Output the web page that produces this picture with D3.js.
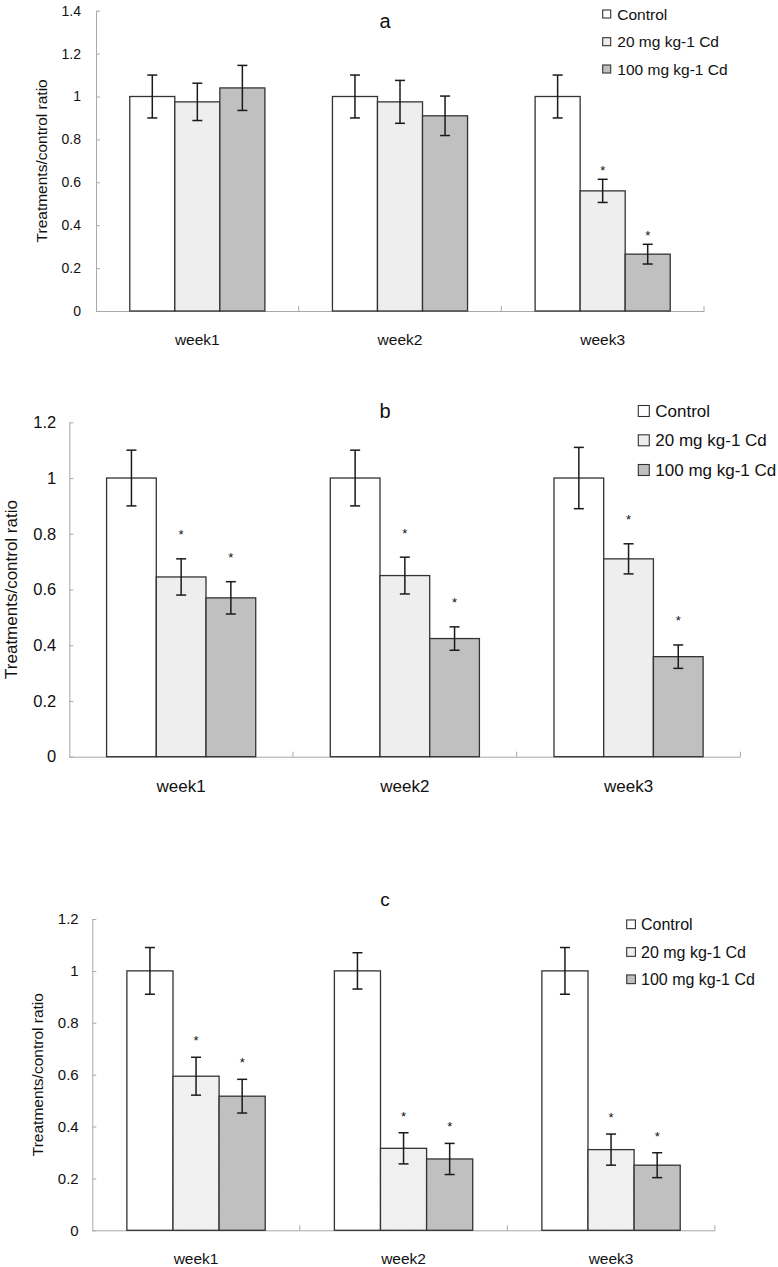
<!DOCTYPE html>
<html>
<head>
<meta charset="utf-8">
<script src="https://cdn.jsdelivr.net/npm/d3@7/dist/d3.min.js"></script>
<style>
  html, body { margin: 0; padding: 0; background: #fff; }
  svg { display: block; font-family: "Liberation Sans", Arial, sans-serif; }
</style>
</head>
<body>
<svg id="chart" width="778" height="1267"></svg>
<script>
// ---------------- DATA ----------------
const weeks = ["week1", "week2", "week3"];
const seriesNames = ["Control", "20 mg kg-1 Cd", "100 mg kg-1 Cd"];
const yAxisTitle = "Treatments/control ratio";

const yTicksA = [0, 0.2, 0.4, 0.6, 0.8, 1, 1.2, 1.4];
const yTickLabelsA = ["0", "0.2", "0.4", "0.6", "0.8", "1", "1.2", "1.4"];
const yTicksBC = [0, 0.2, 0.4, 0.6, 0.8, 1, 1.2];
const yTickLabelsBC = ["0", "0.2", "0.4", "0.6", "0.8", "1", "1.2"];

// Panel a
const aControl = [1, 1, 1];
const aControlErr = [0.1, 0.1, 0.1];
const a20 = [0.975, 0.975, 0.56];
const a20Err = [0.087, 0.1, 0.054];
const a100 = [1.04, 0.91, 0.265];
const a100Err = [0.105, 0.092, 0.046];
const aSig20 = [false, false, true];
const aSig100 = [false, false, true];

// Panel b
const bControl = [1, 1, 1];
const bControlErr = [0.1, 0.1, 0.11];
const b20 = [0.645, 0.65, 0.71];
const b20Err = [0.065, 0.066, 0.054];
const b100 = [0.57, 0.424, 0.359];
const b100Err = [0.058, 0.042, 0.042];
const bSig20 = [true, true, true];
const bSig100 = [true, true, true];

// Panel c
const cControl = [1, 1, 1];
const cControlErr = [0.09, 0.07, 0.09];
const c20 = [0.594, 0.316, 0.311];
const c20Err = [0.073, 0.06, 0.06];
const c100 = [0.517, 0.275, 0.251];
const c100Err = [0.065, 0.06, 0.048];
const cSig20 = [true, true, true];
const cSig100 = [true, true, true];

// ---------------- DRAWING ----------------
const svg = d3.select("#chart");
const defs = svg.append("defs");
const pat = defs.append("pattern")
  .attr("id", "hatch").attr("patternUnits", "userSpaceOnUse")
  .attr("width", 3).attr("height", 3);
pat.append("rect").attr("width", 3).attr("height", 3).attr("fill", "#f6f6f6");
pat.append("path").attr("d", "M0,3 L3,0 M-1,1 L1,-1 M2,4 L4,2")
  .attr("stroke", "#dedede").attr("stroke-width", 0.7);

function buildRows(ctrl, ctrlErr, s20, s20Err, s100, s100Err, sig20, sig100) {
  return weeks.map((w, i) => ({
    week: w,
    items: [
      { s: seriesNames[0], v: ctrl[i], e: ctrlErr[i], sig: false },
      { s: seriesNames[1], v: s20[i], e: s20Err[i], sig: sig20[i] },
      { s: seriesNames[2], v: s100[i], e: s100Err[i], sig: sig100[i] }
    ]
  }));
}

function drawPanel(cfg, rows) {
  const g = svg.append("g");
  const y = d3.scaleLinear().domain([0, cfg.ymax]).range([cfg.y0, cfg.yTop]);
  const x = d3.scaleBand().domain(weeks).range([cfg.x0, cfg.x1]).paddingInner(0).paddingOuter(0);
  const xs = d3.scaleBand().domain(seriesNames).range([0, x.bandwidth()])
    .paddingInner(0).paddingOuter(0.75);
  const fills = cfg.fills;

  // Y axis
  const yAxis = d3.axisLeft(y).tickValues(cfg.ticks)
    .tickFormat((d, i) => cfg.tickLabels[i])
    .tickSizeInner(-4).tickSizeOuter(0).tickPadding(cfg.tickPad);
  const ya = g.append("g").attr("transform", `translate(${cfg.x0},0)`).call(yAxis);
  ya.select(".domain").attr("stroke", "#a8a8a8");
  ya.selectAll(".tick line").attr("stroke", "#a8a8a8");
  ya.selectAll(".tick text").attr("font-size", cfg.tickFont).attr("fill", "#111")
    .attr("font-family", "Liberation Sans, Arial, sans-serif");

  // X axis (labels)
  const xAxis = d3.axisBottom(x).tickSize(0).tickPadding(cfg.weekDy - cfg.weekFont * 0.35);
  const xa = g.append("g").attr("transform", `translate(0,${cfg.y0})`).call(xAxis);
  xa.select(".domain").attr("stroke", "#a8a8a8");
  xa.selectAll(".tick text").attr("font-size", cfg.weekFont).attr("fill", "#111")
    .attr("font-family", "Liberation Sans, Arial, sans-serif");
  // category separator ticks (inside)
  const bounds = weeks.slice(1).map(w => x(w)).concat([x(weeks[weeks.length - 1]) + x.bandwidth()]);
  g.selectAll(".sep").data(bounds).enter().append("line")
    .attr("x1", d => d).attr("x2", d => d)
    .attr("y1", cfg.y0).attr("y2", cfg.y0 - 5)
    .attr("stroke", "#a8a8a8");

  // Bars
  const grp = g.selectAll(".grp").data(rows).enter().append("g")
    .attr("transform", d => `translate(${x(d.week)},0)`);
  grp.selectAll("rect").data(d => d.items).enter().append("rect")
    .attr("x", d => xs(d.s)).attr("width", xs.bandwidth())
    .attr("y", d => y(d.v)).attr("height", d => y(0) - y(d.v))
    .attr("fill", (d, i) => fills[i]).attr("stroke", "#333").attr("stroke-width", 1.3);

  // Error bars
  const eb = grp.selectAll(".eb").data(d => d.items).enter().append("g");
  const cx = d => xs(d.s) + xs.bandwidth() / 2;
  eb.append("line").attr("x1", cx).attr("x2", cx)
    .attr("y1", d => y(d.v + d.e)).attr("y2", d => y(d.v - d.e))
    .attr("stroke", "#1a1a1a").attr("stroke-width", 1.5);
  eb.append("line").attr("x1", d => cx(d) - 5).attr("x2", d => cx(d) + 5)
    .attr("y1", d => y(d.v + d.e)).attr("y2", d => y(d.v + d.e))
    .attr("stroke", "#1a1a1a").attr("stroke-width", 1.5);
  eb.append("line").attr("x1", d => cx(d) - 5).attr("x2", d => cx(d) + 5)
    .attr("y1", d => y(d.v - d.e)).attr("y2", d => y(d.v - d.e))
    .attr("stroke", "#1a1a1a").attr("stroke-width", 1.5);

  // significance asterisks
  grp.selectAll(".star").data(d => d.items.filter(it => it.sig)).enter().append("text")
    .attr("x", cx).attr("y", d => y(d.v + d.e) - cfg.starGap + 13 * 0.57)
    .attr("text-anchor", "middle").attr("font-size", 13).attr("fill", "#111")
    .text("*");

  // Y title
  g.append("text")
    .attr("transform", `translate(${cfg.labelX},${(cfg.y0 + cfg.yTop) / 2}) rotate(-90)`)
    .attr("text-anchor", "middle").attr("dominant-baseline", "central")
    .attr("font-size", cfg.labelFont).attr("fill", "#111").text(yAxisTitle);

  // Panel title
  g.append("text").attr("x", cfg.title.x).attr("y", cfg.title.y)
    .attr("text-anchor", "middle").attr("dominant-baseline", "central")
    .attr("font-size", cfg.title.size).attr("fill", "#111").text(cfg.title.text);

  // Legend
  const lg = g.selectAll(".lg").data(seriesNames).enter().append("g");
  lg.append("rect")
    .attr("x", cfg.legend.sx).attr("y", (d, i) => cfg.legend.rows[i] - cfg.legend.size / 2)
    .attr("width", cfg.legend.size).attr("height", cfg.legend.size)
    .attr("fill", (d, i) => fills[i]).attr("stroke", "#333").attr("stroke-width", 1.1);
  lg.append("text")
    .attr("x", cfg.legend.tx).attr("y", (d, i) => cfg.legend.rows[i])
    .attr("dominant-baseline", "central")
    .attr("font-size", cfg.legend.font).attr("fill", "#111").text(d => d);
}

drawPanel({
  x0: 96, x1: 704, y0: 311, yTop: 10.7, ymax: 1.4,
  ticks: yTicksA, tickLabels: yTickLabelsA, tickFont: 14, tickPad: 15,
  weekFont: 15.5, weekDy: 28, labelFont: 15.5, labelX: 41,
  fills: ["#ffffff", "#eeeeee", "#c0c0c0"],
  title: { text: "a", x: 385, y: 21, size: 20 },
  legend: { sx: 602.7, size: 8, tx: 617.3, rows: [14, 41.7, 69], font: 15.5 },
  starGap: 12
}, buildRows(aControl, aControlErr, a20, a20Err, a100, a100Err, aSig20, aSig100));

drawPanel({
  x0: 69.3, x1: 740.4, y0: 756.7, yTop: 422.3, ymax: 1.2,
  ticks: yTicksBC, tickLabels: yTickLabelsBC, tickFont: 16.5, tickPad: 13,
  weekFont: 17, weekDy: 29, labelFont: 17, labelX: 11,
  fills: ["#ffffff", "#eeeeee", "#c0c0c0"],
  title: { text: "b", x: 385, y: 411, size: 20 },
  legend: { sx: 638.3, size: 11, tx: 655.3, rows: [411, 440.3, 470], font: 17 },
  starGap: 27
}, buildRows(bControl, bControlErr, b20, b20Err, b100, b100Err, bSig20, bSig100));

drawPanel({
  x0: 92.3, x1: 714.8, y0: 1230.3, yTop: 919, ymax: 1.2,
  ticks: yTicksBC, tickLabels: yTickLabelsBC, tickFont: 15, tickPad: 13.6,
  weekFont: 15.5, weekDy: 28, labelFont: 15.5, labelX: 37.5,
  fills: ["#ffffff", "url(#hatch)", "#c0c0c0"],
  title: { text: "c", x: 385, y: 899, size: 19 },
  legend: { sx: 626.7, size: 8.7, tx: 641, rows: [924.3, 952, 979.3], font: 16 },
  starGap: 19.5
}, buildRows(cControl, cControlErr, c20, c20Err, c100, c100Err, cSig20, cSig100));
</script>
</body>
</html>
